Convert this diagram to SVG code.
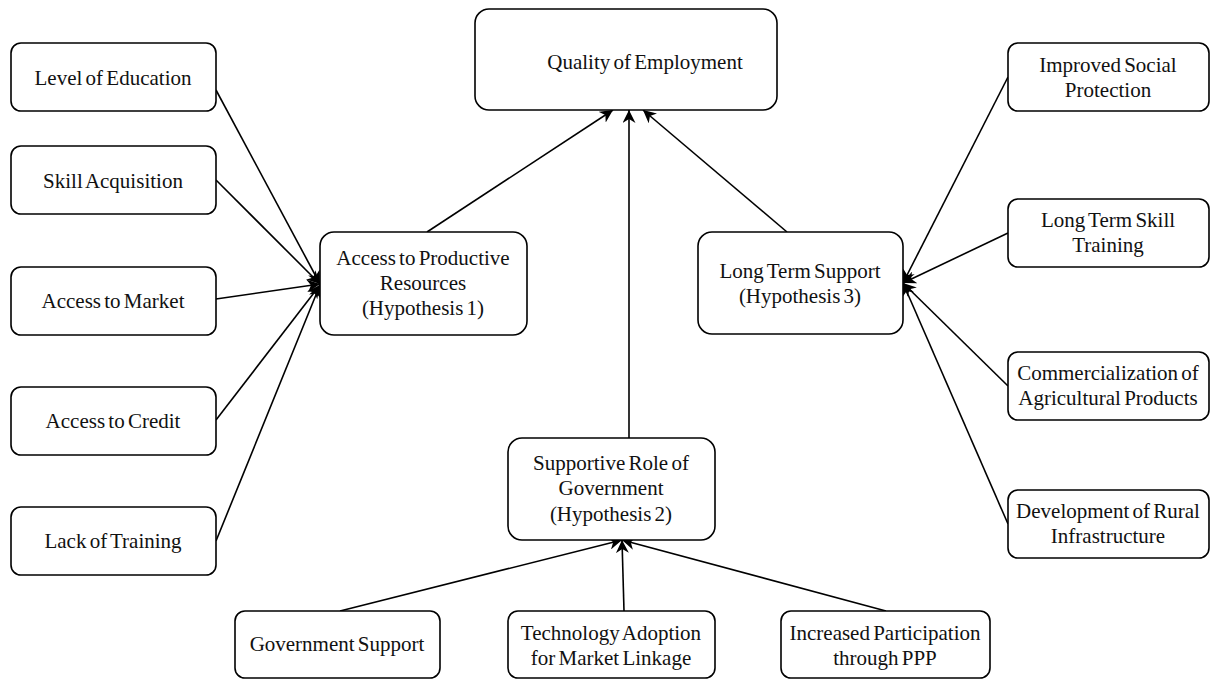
<svg xmlns="http://www.w3.org/2000/svg" width="1212" height="679" viewBox="0 0 1212 679">
<style>
.n rect{fill:#fff;stroke:#000;stroke-width:1.6}
.n text{font-family:'Liberation Serif',serif;font-size:21px;word-spacing:-2px;fill:#111;text-anchor:middle}
#edges line{stroke:#000;stroke-width:1.6;marker-end:url(#ah)}
</style>
<defs>
<marker id="ah" viewBox="0 0 10 10" refX="10" refY="5" markerWidth="13" markerHeight="13" markerUnits="userSpaceOnUse" orient="auto">
<path d="M0,0 L10,5 L0,10 L3,5 z" fill="#000"/>
</marker>
</defs>
<rect width="1212" height="679" fill="#fff"/>
<g id="edges">
<line x1="216" y1="90" x2="320" y2="284"/>
<line x1="216" y1="180" x2="320" y2="284"/>
<line x1="216" y1="299" x2="320" y2="284"/>
<line x1="216" y1="420" x2="320" y2="285"/>
<line x1="216" y1="541" x2="320" y2="285"/>
<line x1="427" y1="232" x2="613" y2="110"/>
<line x1="629" y1="438" x2="629" y2="110"/>
<line x1="787" y1="232" x2="643" y2="110"/>
<line x1="1008" y1="77" x2="903" y2="283"/>
<line x1="1008" y1="233" x2="903" y2="283"/>
<line x1="1008" y1="386" x2="903" y2="283"/>
<line x1="1008" y1="524" x2="903" y2="283"/>
<line x1="340" y1="611" x2="622" y2="540"/>
<line x1="624" y1="611" x2="622" y2="540"/>
<line x1="886" y1="611" x2="622" y2="540"/>
</g>
<g id="quality" class="n"><rect x="475" y="9" width="302" height="101" rx="14"/><text x="645" y="69">Quality of Employment</text></g>
<g id="edu" class="n"><rect x="11" y="43" width="205" height="68" rx="10"/><text x="113" y="85">Level of Education</text></g>
<g id="skill" class="n"><rect x="11" y="146" width="205" height="68" rx="10"/><text x="113" y="188">Skill Acquisition</text></g>
<g id="market" class="n"><rect x="11" y="267" width="205" height="68" rx="10"/><text x="113" y="308">Access to Market</text></g>
<g id="credit" class="n"><rect x="11" y="387" width="205" height="68" rx="10"/><text x="113" y="428">Access to Credit</text></g>
<g id="training" class="n"><rect x="11" y="507" width="205" height="68" rx="10"/><text x="113" y="548">Lack of Training</text></g>
<g id="h1" class="n"><rect x="320" y="232" width="207" height="103" rx="14"/><text x="423" y="265">Access to Productive</text><text x="423" y="290">Resources</text><text x="423" y="315">(Hypothesis 1)</text></g>
<g id="h3" class="n"><rect x="698" y="232" width="205" height="102" rx="14"/><text x="800" y="278">Long Term Support</text><text x="800" y="303">(Hypothesis 3)</text></g>
<g id="h2" class="n"><rect x="508" y="438" width="207" height="102" rx="14"/><text x="611" y="470">Supportive Role of</text><text x="611" y="495">Government</text><text x="611" y="521">(Hypothesis 2)</text></g>
<g id="gov" class="n"><rect x="235" y="611" width="205" height="67" rx="10"/><text x="337" y="651">Government Support</text></g>
<g id="tech" class="n"><rect x="508" y="611" width="207" height="67" rx="10"/><text x="611" y="640">Technology Adoption</text><text x="611" y="665">for Market Linkage</text></g>
<g id="ppp" class="n"><rect x="781" y="611" width="209" height="67" rx="10"/><text x="885" y="640">Increased Participation</text><text x="885" y="665">through PPP</text></g>
<g id="social" class="n"><rect x="1008" y="43" width="201" height="68" rx="10"/><text x="1108" y="72">Improved Social</text><text x="1108" y="97">Protection</text></g>
<g id="ltskill" class="n"><rect x="1008" y="199" width="201" height="68" rx="10"/><text x="1108" y="227">Long Term Skill</text><text x="1108" y="252">Training</text></g>
<g id="commerc" class="n"><rect x="1008" y="352" width="201" height="68" rx="10"/><text x="1108" y="380">Commercialization of</text><text x="1108" y="405">Agricultural Products</text></g>
<g id="rural" class="n"><rect x="1008" y="490" width="201" height="68" rx="10"/><text x="1108" y="518">Development of Rural</text><text x="1108" y="543">Infrastructure</text></g>
</svg>
